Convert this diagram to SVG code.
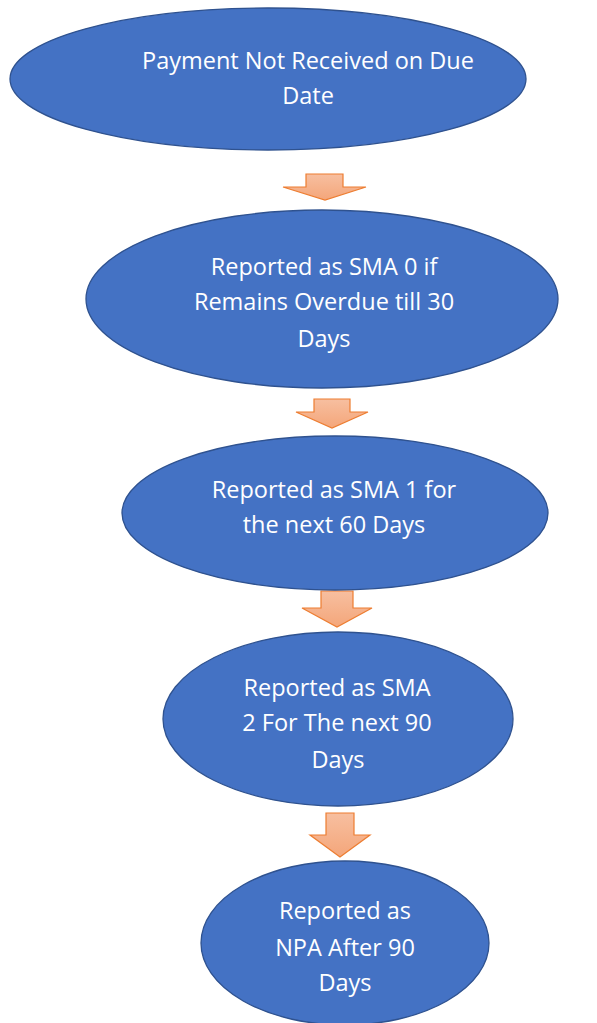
<svg xmlns="http://www.w3.org/2000/svg" width="597" height="1023" viewBox="0 0 597 1023">
<style>
.node ellipse{fill:#4472C4;stroke:#2F528F;stroke-width:1.3}
.node text{fill:#FFFFFF;font-family:"Open Sans","Liberation Sans",sans-serif;font-size:23.5px;text-anchor:middle}
.arrow{fill:url(#ag);stroke:#ED7D31;stroke-width:1.2;stroke-linejoin:miter}
</style>
<defs>
<linearGradient id="ag" x1="0" y1="0" x2="0" y2="1">
<stop offset="0" stop-color="#F7BFA0"/>
<stop offset="1" stop-color="#F4A67A"/>
</linearGradient>
</defs>
<rect width="597" height="1023" fill="#FFFFFF"/>
<g id="connectors">
<polygon class="arrow" points="306,174 343,174 343,187 366,187 325,200 283,187 306,187"/>
<polygon class="arrow" points="314,399 350,399 350,412 368,412 332,428 296,412 314,412"/>
<polygon class="arrow" points="321,591 353,591 353,608 372,608 337,627 302,608 321,608"/>
<polygon class="arrow" points="326,813 354,813 354,835 370,835 340,857 310,835 326,835"/>
</g>
<g id="node1" class="node">
<ellipse cx="268" cy="79" rx="258" ry="71"/>
<text x="308" y="69">Payment Not Received on Due</text>
<text x="308" y="104">Date</text>
</g>
<g id="node2" class="node">
<ellipse cx="322" cy="299" rx="236" ry="89"/>
<text x="324" y="275">Reported as SMA 0 if</text>
<text x="324" y="310">Remains Overdue till 30</text>
<text x="324" y="347">Days</text>
</g>
<g id="node3" class="node">
<ellipse cx="335" cy="513" rx="213" ry="77"/>
<text x="334" y="498">Reported as SMA 1 for</text>
<text x="334" y="533">the next 60 Days</text>
</g>
<g id="node4" class="node">
<ellipse cx="338" cy="719" rx="175" ry="87"/>
<text x="337" y="696">Reported as SMA</text>
<text x="337" y="731">2 For The next 90</text>
<text x="338" y="768">Days</text>
</g>
<g id="node5" class="node">
<ellipse cx="345" cy="943" rx="144" ry="82"/>
<text x="345" y="919">Reported as</text>
<text x="345" y="956">NPA After 90</text>
<text x="345" y="991">Days</text>
</g>
</svg>
